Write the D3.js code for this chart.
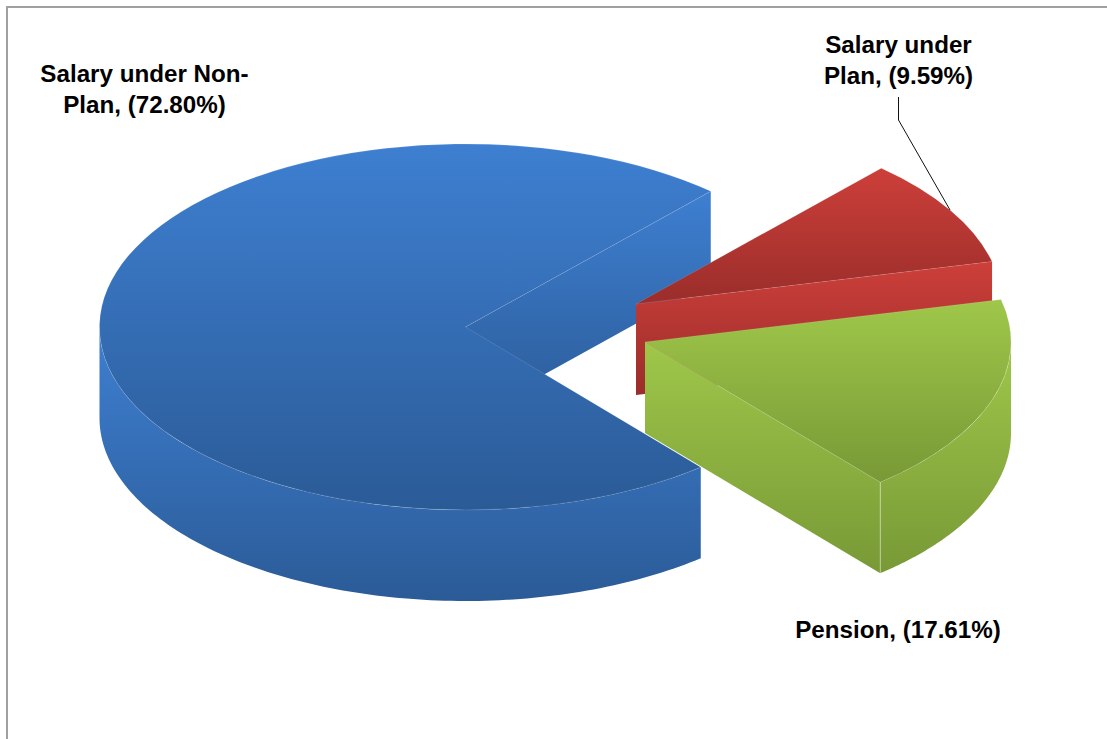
<!DOCTYPE html>
<html>
<head>
<meta charset="utf-8">
<script src="https://cdn.jsdelivr.net/npm/d3@7"></script>
<style>
  html, body { margin: 0; padding: 0; background: #fff; overflow: hidden; }
  text { font-family: "Liberation Sans", Arial, sans-serif; font-weight: bold; font-size: 24.2px; fill: #000; }
</style>
</head>
<body>
<script>
// chart data
const categories = ['Salary under Non-Plan', 'Salary under Plan', 'Pension'];
const shares = [72.80, 9.59, 17.61];
const labelLines = [
  ['Salary under Non-', 'Plan, (72.80%)'],
  ['Salary under', 'Plan, (9.59%)'],
  ['Pension, (17.61%)']
];

// colours: [top of gradient, bottom of gradient]
const sliceColors = [
  ['#3e7fd1', '#2b5b97'],
  ['#cd3f3a', '#9a2d2a'],
  ['#9fc74a', '#789936']
];

// layout
const width = 1107, height = 739;
const cx = 465.5, cy = 327;
const rx = 366, ry = 183, depth = 91;
const startDeg = 140;
const explode = [[0, 0], [170.5, -23], [179.5, 15]];
const labelPos = [[144.5, 82], [898.5, 53], [898, 638]];
const lineGap = 31;

const svg = d3.select('body').append('svg')
  .attr('width', width).attr('height', height)
  .style('display', 'block');

// 外框 (only left and top show, the rest runs off the page)
svg.append('rect')
  .attr('x', 7).attr('y', 7)
  .attr('width', width + 20).attr('height', height + 20)
  .attr('fill', 'none').attr('stroke', '#a0a0a0').attr('stroke-width', 2);

const defs = svg.append('defs');
sliceColors.forEach((c, i) => {
  const g = defs.append('linearGradient').attr('id', 'grad' + i)
    .attr('x1', 0).attr('y1', 0).attr('x2', 0).attr('y2', 1);
  g.append('stop').attr('offset', '0%').attr('stop-color', c[0]);
  g.append('stop').attr('offset', '100%').attr('stop-color', c[1]);
});

const start = startDeg * Math.PI / 180;
const pie = d3.pie().sort(null).startAngle(start).endAngle(start + 2 * Math.PI);
const slices = pie(shares).map((d, i) => ({
  ...d,
  name: categories[i],
  i: i,
  x: cx + explode[i][0],
  y: cy + explode[i][1]
}));

const arc = d3.arc().innerRadius(0).outerRadius(rx);
const px = (d, a) => d.x + rx * Math.sin(a);
const py = (d, a) => d.y - ry * Math.cos(a);

// the cut face seen at the end of each slice
const wallPath = d3.line();
function wallPoints(d, a) {
  return [
    [d.x, d.y], [px(d, a), py(d, a)],
    [px(d, a), py(d, a) + depth], [d.x, d.y + depth]
  ];
}

// rim, only the part that faces the viewer (90 to 270 deg)
const rimPath = d3.area().x(p => p.x).y0(p => p.y).y1(p => p.y + depth);
function rimPoints(d) {
  // 超過一圈的角度先減回來
  const shift = d.startAngle >= 2 * Math.PI ? 2 * Math.PI : 0;
  const a0 = Math.max(d.startAngle - shift, Math.PI / 2);
  const a1 = Math.min(d.endAngle - shift, 3 * Math.PI / 2);
  if (a1 <= a0) return [];
  return d3.range(0, 121).map(k => {
    const a = a0 + (a1 - a0) * k / 120;
    return { x: px(d, a), y: py(d, a) };
  });
}

const groups = svg.selectAll('.slice').data(slices).join('g').attr('class', 'slice');

groups.append('path')
  .attr('d', d => wallPath(wallPoints(d, d.endAngle)))
  .attr('fill', d => `url(#grad${d.i})`);

groups.append('path')
  .attr('d', d => { const p = rimPoints(d); return p.length ? rimPath(p) : null; })
  .attr('fill', d => `url(#grad${d.i})`);

groups.append('path')
  .attr('d', arc)
  .attr('transform', d => `translate(${d.x},${d.y}) scale(1,${ry / rx})`)
  .attr('fill', d => `url(#grad${d.i})`)
  .attr('stroke', 'rgba(255,255,255,0.15)')
  .attr('stroke-width', 0.8)
  .attr('vector-effect', 'non-scaling-stroke');

// seam at the front corner of the green slice
const pension = slices[2];
svg.append('line')
  .attr('x1', px(pension, pension.endAngle)).attr('y1', py(pension, pension.endAngle))
  .attr('x2', px(pension, pension.endAngle)).attr('y2', py(pension, pension.endAngle) + depth)
  .attr('stroke', 'rgba(255,255,255,0.5)').attr('stroke-width', 0.8);

// leader line for the small slice
svg.append('path')
  .attr('d', d3.line()([[898.5, 97], [898.5, 120], [950, 210]]))
  .attr('fill', 'none').attr('stroke', '#111').attr('stroke-width', 1);

// labels
const labels = svg.selectAll('.label').data(labelLines).join('text')
  .attr('class', 'label')
  .attr('text-anchor', 'middle');
labels.selectAll('tspan').data((d, i) => d.map(t => ({ t, i }))).join('tspan')
  .attr('x', d => labelPos[d.i][0])
  .attr('y', (d, k) => labelPos[d.i][1] + k * lineGap)
  .text(d => d.t);
</script>
</body>
</html>
